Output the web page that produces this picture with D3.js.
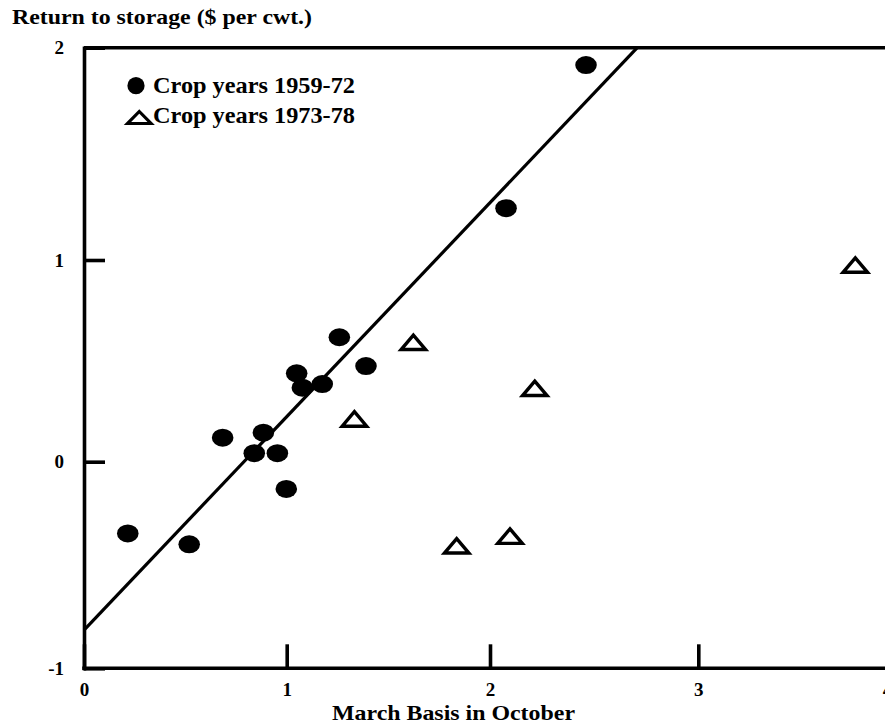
<!DOCTYPE html>
<html>
<head>
<meta charset="utf-8">
<script src="https://cdn.jsdelivr.net/npm/d3@7"></script>
<style>
  html, body { margin: 0; padding: 0; background: #fff; }
  svg { display: block; }
  text { font-family: "Liberation Serif", "Times New Roman", serif; font-weight: bold; fill: #000; }
</style>
</head>
<body>
<svg id="chart" width="885" height="727"></svg>
<script>
// ---- data ----
const xTicks = [0, 1, 2, 3, 4];
const yTicks = [-1, 0, 1, 2];

// Crop years 1959-72 (filled circles): [March basis in October, return to storage]
const basis5972  = [0.216, 0.519, 0.684, 0.840, 0.885, 0.954, 0.998, 1.049, 1.077, 1.175, 1.259, 1.390, 2.077, 2.461];
const return5972 = [-0.347, -0.400, 0.119, 0.042, 0.144, 0.042, -0.132, 0.438, 0.367, 0.385, 0.617, 0.474, 1.244, 1.918];

// Crop years 1973-78 (open triangles)
const basis7378  = [1.333, 1.623, 1.836, 2.096, 2.215, 3.832];
const return7378 = [0.212, 0.592, -0.407, -0.360, 0.364, 0.975];

// fitted line (1959-72)
const fitX = [0, 2.707];
const fitY = [-0.815, 2.0];

const legendLabels = ["Crop years 1959-72", "Crop years 1973-78"];
const yTitle = "Return to storage ($ per cwt.)";
const xTitle = "March Basis in October";

// ---- scales (scanned axis is slightly uneven, so piecewise linear) ----
const x = d3.scaleLinear().domain(xTicks).range([84, 286.7, 490, 698.3, 887]);
const y = d3.scaleLinear().domain(yTicks).range([668.3, 461.7, 260, 47.7]);

const svg = d3.select("#chart");
const ink = "#000";

// top frame line
svg.append("line")
  .attr("x1", x(0)).attr("x2", 890)
  .attr("y1", y(2)).attr("y2", y(2))
  .attr("stroke", ink).attr("stroke-width", 3.4);

// axes
const fmt = d => String(d);
const yAxis = d3.axisLeft(y).tickValues(yTicks).tickSize(-21).tickSizeOuter(0).tickPadding(20).tickFormat(fmt);
const xAxis = d3.axisBottom(x).tickValues(xTicks).tickSize(-24).tickSizeOuter(0).tickPadding(14).tickFormat(fmt);

const gy = svg.append("g").attr("transform", `translate(${x(0)},0)`).call(yAxis);
const gx = svg.append("g").attr("transform", `translate(0,${y(-1)})`).call(xAxis);

[gx, gy].forEach(g => {
  g.attr("font-size", 19).attr("font-family", "Liberation Serif, Times New Roman, serif");
  g.select(".domain").attr("stroke", ink).attr("stroke-width", 3.6).attr("stroke-linecap", "square");
  g.selectAll(".tick line").attr("stroke", ink).attr("stroke-width", 3.6);
  g.selectAll(".tick text")
    .attr("font-weight", "bold").attr("font-size", 19).attr("fill", ink);
});
gx.select(".domain").attr("d", `M${x(0)},0H890`);

// fitted line
const line = d3.line().x(d => x(d[0])).y(d => y(d[1]));
svg.append("path")
  .datum(fitX.map((v, i) => [v, fitY[i]]))
  .attr("d", line)
  .attr("fill", "none").attr("stroke", ink).attr("stroke-width", 3.2);

// circles
svg.append("g").selectAll("ellipse")
  .data(basis5972.map((v, i) => [v, return5972[i]]))
  .join("ellipse")
  .attr("cx", d => x(d[0])).attr("cy", d => y(d[1]))
  .attr("rx", 10.8).attr("ry", 9)
  .attr("fill", ink);

// triangles
const triPath = (w, h) => `M0,${-h / 2}L${w / 2},${h / 2}L${-w / 2},${h / 2}Z`;
svg.append("g").selectAll("path")
  .data(basis7378.map((v, i) => [v, return7378[i]]))
  .join("path")
  .attr("transform", d => `translate(${x(d[0])},${y(d[1])})`)
  .attr("d", triPath(24.5, 14.5))
  .attr("fill", "#fff").attr("stroke", ink).attr("stroke-width", 3.4).attr("stroke-linejoin", "miter");

// legend
const lg = svg.append("g");
lg.append("circle").attr("cx", 136).attr("cy", 85.7).attr("r", 8.6).attr("fill", ink);
lg.append("path").attr("transform", "translate(139.3,117.5)").attr("d", triPath(23.5, 12))
  .attr("fill", "#fff").attr("stroke", ink).attr("stroke-width", 3.2);
lg.selectAll("text").data(legendLabels).join("text")
  .attr("x", 153).attr("y", (d, i) => 92.7 + i * 30.6)
  .attr("font-size", 23)
  .attr("textLength", 202).attr("lengthAdjust", "spacingAndGlyphs")
  .text(d => d);

// titles
svg.append("text").attr("x", 12).attr("y", 24).attr("font-size", 21)
  .attr("textLength", 300).attr("lengthAdjust", "spacingAndGlyphs")
  .text(yTitle);
svg.append("text").attr("x", 332).attr("y", 719.5).attr("font-size", 21)
  .attr("textLength", 243).attr("lengthAdjust", "spacingAndGlyphs")
  .text(xTitle);
</script>
</body>
</html>
